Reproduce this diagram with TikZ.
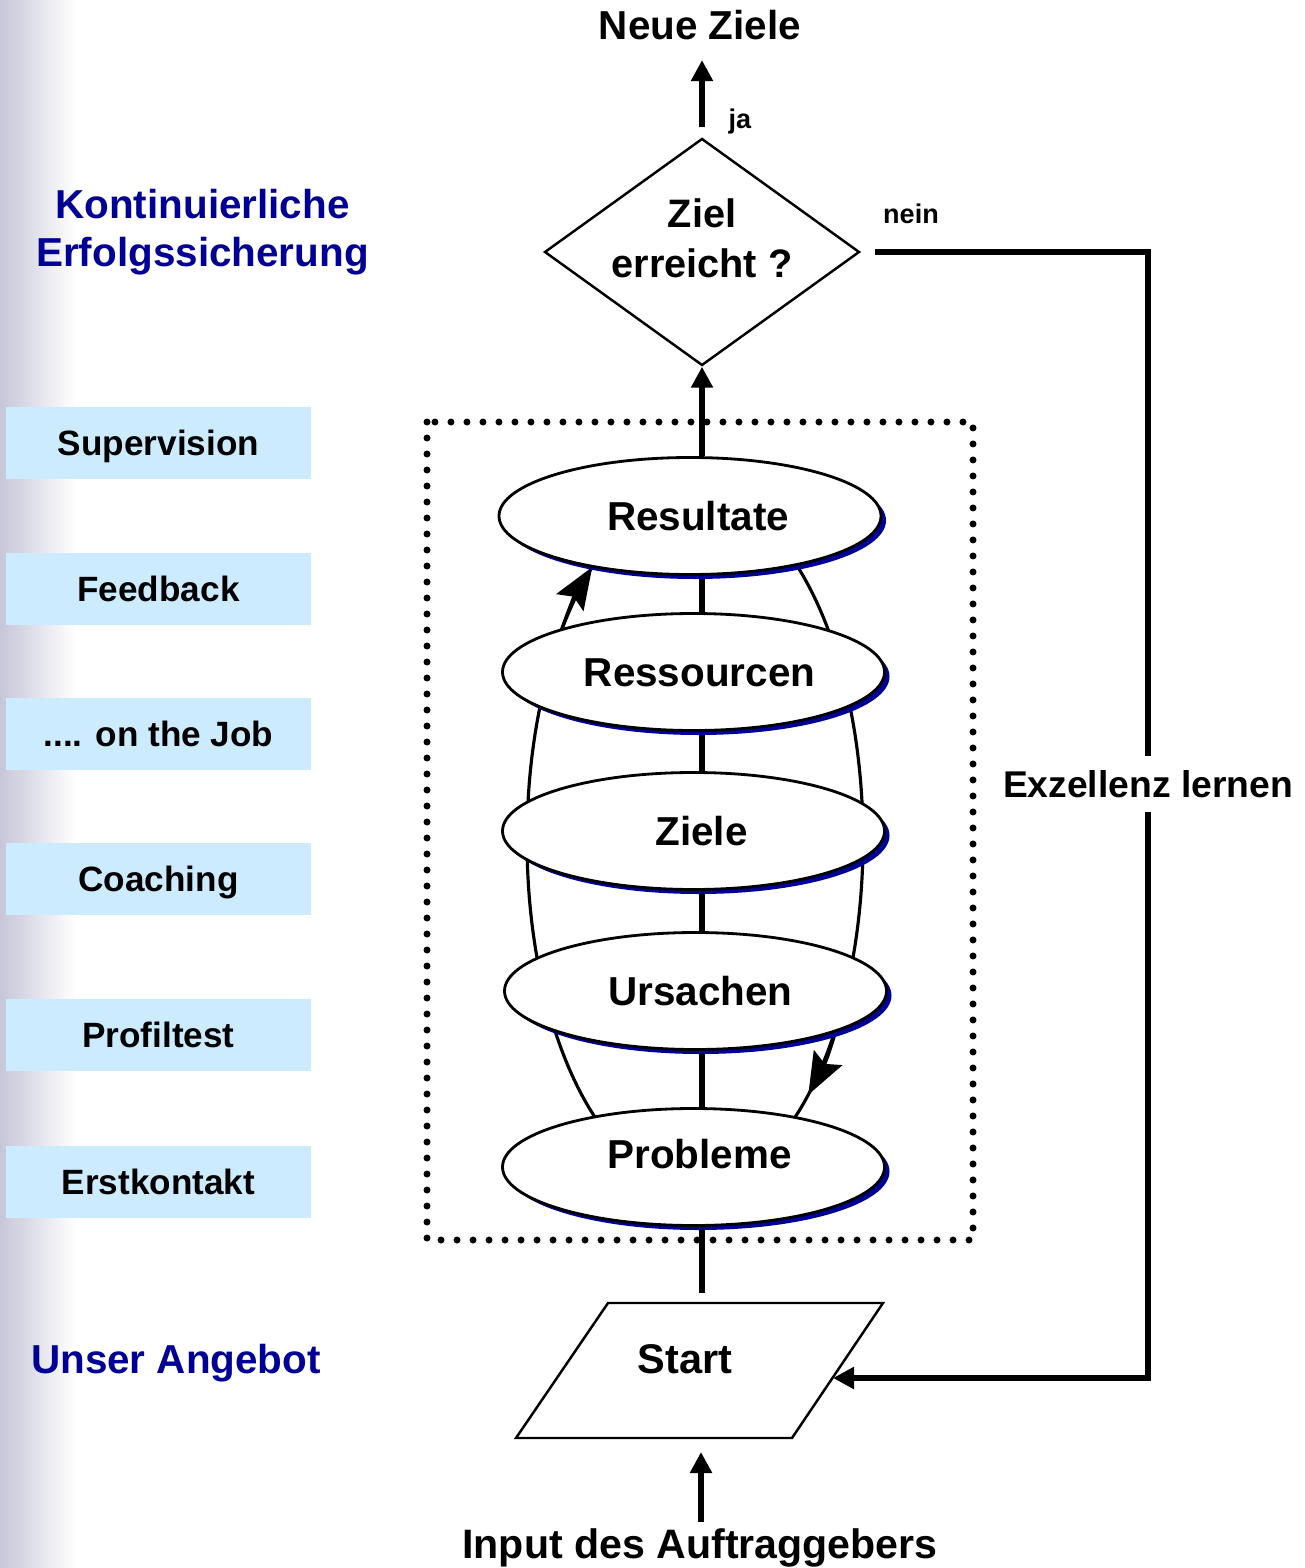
\documentclass[tikz,border=0pt]{standalone}
\usepackage{fontspec}
\setmainfont{Liberation Sans}
\usetikzlibrary{arrows.meta,shapes.geometric,shadows}
\pgfdeclarelayer{background}
\pgfsetlayers{background,main}
\definecolor{angebotblue}{RGB}{204,235,255}
\definecolor{navytext}{RGB}{0,0,150}
\definecolor{stripgray}{RGB}{198,198,216}

\begin{document}
\begin{tikzpicture}[
    mainline/.style={line width=1.6pt},
    mainarrow/.style={line width=1.6pt,-{Triangle[length=2.1mm,width=2.1mm]}},
    looparrow/.style={line width=0.9pt,-{Stealth[length=4.2mm,width=3.2mm,inset=0.7mm]}},
    phase/.style={ellipse,draw,line width=0.8pt,fill=white,minimum width=3.82cm,minimum height=1.17cm,inner sep=0pt,
        font=\fontsize{11.5}{14}\selectfont\bfseries,text height=8.2pt,text depth=0pt,
        drop shadow={shadow xshift=0.05cm,shadow yshift=-0.045cm,fill=navytext,opacity=1}},
    offer/.style={fill=angebotblue,minimum width=3.05cm,minimum height=0.72cm,inner sep=0pt,
        font=\fontsize{10}{12}\selectfont\bfseries,text height=7.2pt,text depth=0pt},
    caption/.style={inner sep=0pt,anchor=base,font=\fontsize{11.5}{14}\selectfont\bfseries},
    smalllabel/.style={inner sep=0pt,anchor=base,font=\fontsize{7.7}{9}\selectfont\bfseries}
  ]
  \useasboundingbox (0,0) rectangle (13.04,-15.68);

  % Drawing offer column
  \node[offer] (supervision) at (1.585,-4.43) {Supervision};
  \node[offer] (feedback) at (1.585,-5.89) {Feedback};
  \node[offer] (onthejob) at (1.585,-7.34) {.... on the Job};
  \node[offer] (coaching) at (1.585,-8.79) {Coaching};
  \node[offer] (profiltest) at (1.585,-10.35) {Profiltest};
  \node[offer] (erstkontakt) at (1.585,-11.82) {Erstkontakt};
  \node[caption,anchor=north,align=center,text=navytext,font=\fontsize{11.5}{13.7}\selectfont\bfseries] (erfolg) at (2.025,-1.884) {Kontinuierliche\\Erfolgssicherung};
  \node[caption,text=navytext] (angebot) at (1.76,-13.73) {Unser Angebot};

  % Drawing decision
  \node[caption] (neue) at (7.00,-0.40) {Neue Ziele};
  \node[diamond,draw,line width=0.7pt,minimum width=3.15cm,minimum height=2.27cm,inner sep=0pt] (ziel) at (7.02,-2.52) {};
  \node[align=center,inner sep=0pt,font=\fontsize{11.3}{14.2}\selectfont\bfseries] (zieltext) at (7.02,-2.387) {Ziel\\erreicht ?};
  \node[smalllabel] (ja) at (7.40,-1.29) {ja};
  \node[smalllabel] (nein) at (9.11,-2.24) {nein};

  % Drawing phases
  \node[phase] (resultate) at (6.90,-5.16) {\hspace*{1.6mm}Resultate};
  \node[phase] (ressourcen) at (6.935,-6.72) {\hspace*{1.2mm}Ressourcen};
  \node[phase] (ziele) at (6.935,-8.31) {\hspace*{1.6mm}Ziele};
  \node[phase] (ursachen) at (6.955,-9.91) {\hspace*{1mm}Ursachen};
  \node[phase,text depth=7.4pt] (probleme) at (6.935,-11.67) {\hspace*{1.2mm}Probleme};

  % Drawing start
  \coordinate (sTL) at (6.08,-13.03);
  \coordinate (sTR) at (8.83,-13.03);
  \coordinate (sBR) at (7.92,-14.38);
  \coordinate (sBL) at (5.16,-14.38);
  \coordinate (stop) at (7.02,-12.93);
  \coordinate (sright) at (8.33,-13.78);
  \coordinate (sbot) at (7.01,-14.52);
  \draw[line width=0.7pt] (sTL) -- (sTR) -- (sBR) -- (sBL) -- cycle;
  \node[caption,anchor=center,font=\fontsize{11.8}{14}\selectfont\bfseries,text height=8.4pt,text depth=0pt] (start) at (6.85,-13.585) {Start};
  \node[caption,font=\fontsize{11.7}{14}\selectfont\bfseries] (input) at (7.00,-15.58) {Input des Auftraggebers};

  % Drawing feedback loop
  \node[inner sep=0pt,minimum height=0.54cm,font=\fontsize{10.6}{12}\selectfont\bfseries,text height=7.6pt,text depth=0pt] (exz) at (11.48,-7.84) {Exzellenz lernen};
  \draw[mainline] ([xshift=1.4mm]ziel.east) -| (exz.north);
  \draw[mainarrow] (exz.south) |- (sright);
  \draw[mainarrow,shorten <=1mm,shorten >=1.9mm] (ziel.north) -- (ziel.north |- neue.south);
  \draw[mainarrow,shorten <=0.6mm] (input.north -| sbot) -- (sbot);

  \begin{pgfonlayer}{background}
    \shade[left color=stripgray,right color=white] (0,0) rectangle (0.75,-15.68);
    \draw[line width=0.07cm,line cap=round,dash pattern=on 0pt off 0.16cm] (4.27,-4.22) rectangle (9.73,-12.40);
    % cycle round the phases
    \draw[line width=0.9pt] (6.95,-8.40) ellipse [x radius=1.68,y radius=3.45];
    \draw[looparrow] (6.95,-8.40) ++(150:1.68 and 3.45) arc[start angle=150,end angle=127.7,x radius=1.68,y radius=3.45];
    \draw[looparrow] (6.95,-8.40) ++(-20:1.68 and 3.45) arc[start angle=-20,end angle=-47.6,x radius=1.68,y radius=3.45];
    % spine
    \draw[mainline] (resultate.south -| ziel) -- (ressourcen.north -| ziel);
    \draw[mainline] (ressourcen.south -| ziel) -- (ziele.north -| ziel);
    \draw[mainline] (ziele.south -| ziel) -- (ursachen.north -| ziel);
    \draw[mainline] (ursachen.south -| ziel) -- (probleme.north -| ziel);
    \draw[mainline] (probleme.south -| ziel) -- (stop);
    \draw[mainarrow] (resultate.north -| ziel) -- (ziel.south);
  \end{pgfonlayer}
\end{tikzpicture}
\end{document}
